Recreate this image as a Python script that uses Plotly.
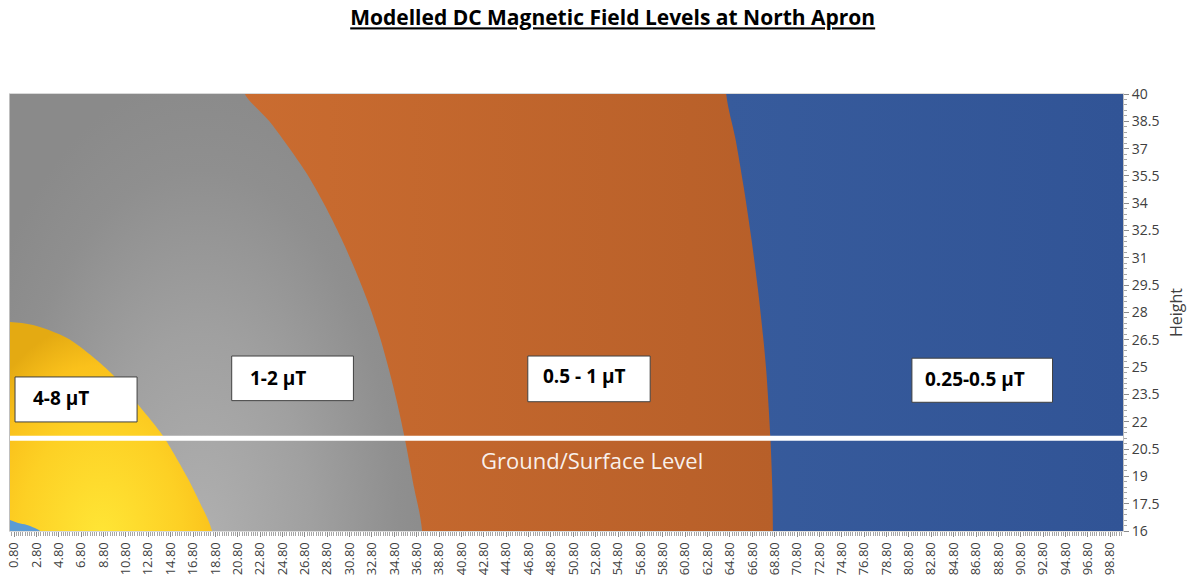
import plotly.graph_objects as go

# ---------------- axis extents ----------------
X_MIN, X_MAX = 0.44, 99.94
Y_MIN, Y_MAX = 16.0, 40.0
GROUND_LEVEL = 21.1

# ---------------- band boundaries ----------------
# light-blue corner (> 8 uT) boundary
corner_x = [0.44, 1.16, 1.96, 3.12]
corner_y = [16.60, 16.44, 16.33, 16.00]

# 4-8 uT outer boundary (left edge -> bottom)
band_4_8_x = [0.44, 2.50, 5.54, 7.86, 9.65, 12.07, 14.12, 16.27, 17.43, 18.50]
band_4_8_y = [27.48, 27.31, 26.60, 25.56, 24.57, 22.81, 21.22, 18.97, 17.54, 16.00]

# 1-2 uT outer boundary (top -> bottom)
band_1_2_x = [21.45, 23.63, 26.82, 28.55, 30.04, 31.35, 32.54, 33.53, 34.35, 35.09, 35.69, 36.57, 37.28]
band_1_2_y = [40.00, 38.50, 35.77, 33.92, 32.09, 30.26, 28.41, 26.60, 24.79, 22.94, 21.22, 18.36, 16.00]

# 0.5-1 uT outer boundary (top -> bottom)
band_05_1_x = [64.47, 65.28, 66.04, 66.71, 67.29, 67.78, 68.05, 68.41, 68.59, 68.64]
band_05_1_y = [40.00, 37.58, 34.85, 32.09, 29.35, 26.60, 24.79, 21.22, 18.36, 16.00]

# region labels
label_texts = ["4-8 µT", "1-2 µT", "0.5 - 1 µT", "0.25-0.5 µT"]
label_box_x0 = [0.89, 20.26, 46.73, 81.07]
label_box_x1 = [11.80, 31.14, 57.67, 93.64]
label_box_y0 = [21.99, 23.16, 23.10, 23.07]
label_box_y1 = [24.46, 25.61, 25.61, 25.49]
label_text_x = [2.30, 21.70, 47.90, 82.10]
label_text_y = [23.30, 24.40, 24.49, 24.35]

# axis ticks
x_tick_values = [round(0.8 + 2 * k, 2) for k in range(50)]
x_tick_labels = [f"{v:.2f}" for v in x_tick_values]

FONT = "Open Sans"
PAD = 6.0  # helper vertices outside the axis ranges (clipped, never visible)


def region(**kw):
    return go.Scatter(mode="lines", line=dict(width=0, shape="spline", smoothing=0.8),
                      fill="toself", hoverinfo="skip", showlegend=False, **kw)


fig = go.Figure()

# 0.25-0.5 uT (blue) region
fig.add_trace(region(
    x=[band_05_1_x[0]] + band_05_1_x + [band_05_1_x[-1], X_MAX + PAD, X_MAX + PAD],
    y=[Y_MAX + PAD] + band_05_1_y + [Y_MIN - PAD, Y_MIN - PAD, Y_MAX + PAD],
    fillcolor="#34589A",
    fillgradient=dict(type="horizontal", start=band_05_1_x[0], stop=X_MAX,
                      colorscale=[[0, "#375B9C"], [1, "#315496"]])))

# 0.5-1 uT (orange) region
fig.add_trace(region(
    x=[band_05_1_x[0]] + band_05_1_x + [band_05_1_x[-1], X_MIN - PAD, X_MIN - PAD],
    y=[Y_MAX + PAD] + band_05_1_y + [Y_MIN - PAD, Y_MIN - PAD, Y_MAX + PAD],
    fillcolor="#C2652C",
    fillgradient=dict(type="horizontal", start=band_1_2_x[0], stop=band_05_1_x[-1],
                      colorscale=[[0, "#CA6C30"], [1, "#B75F29"]])))

# 1-2 uT (gray) region; the clipped part below Y_MIN only centres the shading
depth = Y_MAX - Y_MIN
fig.add_trace(region(
    x=[band_1_2_x[0]] + band_1_2_x + [band_1_2_x[-1], X_MIN - 1, X_MIN - 1],
    y=[Y_MAX + 1] + band_1_2_y + [Y_MIN - depth, Y_MIN - depth, Y_MAX + 1],
    fillcolor="#999999",
    fillgradient=dict(type="radial",
                      colorscale=[[0, "#B0B0B0"], [0.45, "#A0A0A0"], [0.8, "#8F8F8F"], [1, "#8A8A8A"]])))

# 4-8 uT (yellow) region
depth_y = max(band_4_8_y) - Y_MIN
fig.add_trace(region(
    x=[X_MIN - 5] + band_4_8_x + [21.0, X_MIN - 5],
    y=[band_4_8_y[0]] + band_4_8_y + [Y_MIN - depth_y, Y_MIN - depth_y],
    fillcolor="#FFC000",
    fillgradient=dict(type="radial",
                      colorscale=[[0, "#FFE636"], [0.55, "#FDD024"], [0.8, "#FAC11B"], [1, "#E4AA12"]])))

# > 8 uT (light blue) corner
fig.add_trace(go.Scatter(
    x=corner_x + [X_MIN], y=corner_y + [Y_MIN],
    mode="lines", line=dict(width=0, shape="spline"), fill="toself", fillcolor="#5B9BD5",
    hoverinfo="skip", showlegend=False))

# ground / surface line
fig.add_trace(go.Scatter(
    x=[X_MIN, X_MAX], y=[GROUND_LEVEL, GROUND_LEVEL],
    mode="lines", line=dict(color="white", width=5),
    hoverinfo="skip", showlegend=False))

shapes = []
annotations = []
for t, bx0, bx1, by0, by1, tx, ty in zip(label_texts, label_box_x0, label_box_x1,
                                         label_box_y0, label_box_y1, label_text_x, label_text_y):
    shapes.append(dict(type="rect", xref="x", yref="y", x0=bx0, x1=bx1, y0=by0, y1=by1,
                       fillcolor="white", line=dict(color="#404040", width=1), layer="above"))
    annotations.append(dict(x=tx, y=ty, xref="x", yref="y", text=t, showarrow=False,
                            xanchor="left", yanchor="middle",
                            font=dict(family=FONT, size=19, color="black", weight="bold")))

annotations.append(dict(x=52.44, y=19.90, xref="x", yref="y", text="Ground/Surface Level",
                        showarrow=False, xanchor="center", yanchor="middle",
                        font=dict(family=FONT, size=22, color="rgba(255,255,255,0.92)")))

fig.update_layout(
    width=1192, height=581,
    margin=dict(l=10, r=69, t=94, b=50),
    paper_bgcolor="white", plot_bgcolor="#34589A",
    title=dict(text="Modelled DC Magnetic Field Levels at North Apron",
               x=0.514, xref="container", xanchor="center",
               y=1 - 18 / 581, yref="container", yanchor="middle",
               font=dict(family=FONT, size=21, color="black", weight="bold", lineposition="under")),
    shapes=shapes, annotations=annotations,
    xaxis=dict(range=[X_MIN, X_MAX], automargin=False, tickmode="array",
               tickvals=x_tick_values, ticktext=x_tick_labels,
               tickangle=-90, tickfont=dict(family=FONT, size=13, color="#404040"),
               ticks="outside", ticklen=5, tickcolor="#8C8C8C", showgrid=False, zeroline=False,
               showline=True, linecolor="#D9D9D9", mirror=True,
               minor=dict(tickmode="linear", tick0=0.8, dtick=0.2, ticks="outside", ticklen=4,
                          tickcolor="#A6A6A6", showgrid=False)),
    yaxis=dict(range=[Y_MIN, Y_MAX], automargin=False, side="right", tickmode="linear",
               tick0=16, dtick=1.5,
               tickfont=dict(family=FONT, size=14, color="#404040"),
               ticks="outside", ticklen=5, tickcolor="#8C8C8C", showgrid=False, zeroline=False,
               showline=True, linecolor="#BFBFBF", mirror=True,
               minor=dict(tickmode="linear", tick0=16, dtick=0.3, ticks="outside", ticklen=3,
                          tickcolor="#A6A6A6", showgrid=False),
               title=dict(text="Height", standoff=12, font=dict(family=FONT, size=16, color="#404040"))),
)

fig.write_html("out.html", config={"displayModeBar": False},
               post_script="document.body.style.margin='0px';")
